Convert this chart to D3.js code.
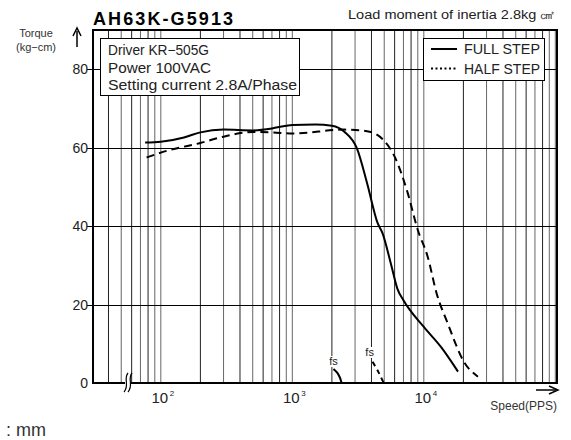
<!DOCTYPE html>
<html><head><meta charset="utf-8">
<script src="https://cdn.jsdelivr.net/npm/d3@7"></script>
<style>body{margin:0;background:#fff}svg{display:block;font-family:"Liberation Sans",Arial,sans-serif}</style>
</head><body>
<svg id="c" width="571" height="440"></svg>
<script>
const title = "AH63K-G5913";
const subtitle = "Load moment of inertia 2.8kg \u33A0";
const infoLines = ["Driver KR\u2212505G", "Power 100VAC", "Setting current 2.8A/Phase"];
const seriesNames = ["FULL STEP", "HALF STEP"];
const yTicks = [0, 20, 40, 60, 80];
const xLabelTicks = [100, 1000, 10000];
const xLabelExps = ["2", "3", "4"];

const fullSpeed  = [76, 100, 150, 200, 300, 500, 700, 900, 1000, 1500, 2000, 2500, 3100, 3700, 4450, 4850, 5600, 6300, 7000, 10000, 13500, 18200];
const fullTorque = [61.3, 61.5, 62.6, 63.9, 64.6, 64.4, 64.9, 65.6, 65.8, 65.9, 65.6, 64.0, 59.8, 51.0, 40.8, 38.2, 30.6, 24.0, 21.1, 14.3, 9.2, 2.9];
const halfSpeed  = [78, 111, 200, 300, 500, 700, 1000, 2500, 3700, 4950, 6100, 7550, 9000, 10700, 12500, 15200, 20200, 25800];
const halfTorque = [57.5, 59.2, 61.2, 62.8, 64.0, 63.9, 63.6, 64.6, 64.2, 61.9, 57.2, 48.4, 39.0, 32.2, 22.9, 15.2, 5.4, 1.6];
const fsFullSpeed  = [2055, 2200, 2300, 2370];
const fsFullTorque = [3.6, 2.6, 1.4, 0];
const fsHalfSpeed  = [4075, 4500, 4955];
const fsHalfTorque = [5.4, 2.9, 0];

const infoWidths = [101, 103, 189];

const svg = d3.select("#c");
const L = 93, R = 557, T = 30, B = 383;
const x = d3.scaleLog().domain([30.5, 103000]).range([L, R]);
const y = d3.scaleLinear().domain([0, 90]).range([B, T]);

// vertical grid
svg.append("g").selectAll("line").data(x.ticks().filter(v => x(v) > L + 2 && x(v) < R - 1))
  .join("line").attr("x1", d => x(d)).attr("x2", d => x(d)).attr("y1", T).attr("y2", B)
  .attr("stroke", d => [2,4,6,8].includes(+String(d)[0]) ? "#222" : "#666").attr("stroke-width", 1);
// horizontal grid
svg.append("g").selectAll("line").data(yTicks.filter(v => v > 0))
  .join("line").attr("x1", L - 6).attr("x2", R).attr("y1", d => Math.round(y(d)) + 0.5).attr("y2", d => Math.round(y(d)) + 0.5)
  .attr("stroke", "#000").attr("stroke-width", 1);
// frame
svg.append("rect").attr("x", L).attr("y", T).attr("width", R - L).attr("height", B - T)
  .attr("fill", "none").attr("stroke", "#000").attr("stroke-width", 2);

// y labels
svg.append("g").selectAll("text").data(yTicks).join("text")
  .attr("x", 88).attr("y", d => y(d) + 5).attr("text-anchor", "end")
  .attr("font-size", 14).attr("fill", "#222").text(d => d);

// x labels
const xl = svg.append("g").selectAll("g").data(xLabelTicks).join("g");
xl.append("text").attr("x", d => x(d) - 1).attr("y", 403).attr("text-anchor", "middle")
  .attr("font-size", 15).attr("fill", "#222").text("10");
xl.append("text").attr("x", d => x(d) + 9).attr("y", 396).attr("font-size", 8).attr("fill", "#222")
  .text((d, i) => xLabelExps[i]);

// curves
const pts = (s, t) => s.map((v, i) => [v, t[i]]);
const line = d3.line().x(d => x(d[0])).y(d => y(d[1])).curve(d3.curveMonotoneX);
svg.append("path").attr("d", line(pts(fullSpeed, fullTorque))).attr("fill", "none")
  .attr("stroke", "#000").attr("stroke-width", 2);
svg.append("path").attr("d", line(pts(halfSpeed, halfTorque))).attr("fill", "none")
  .attr("stroke", "#000").attr("stroke-width", 2).attr("stroke-dasharray", "8,5");

// fs labels + curves
const fsLab = [[fsFullSpeed[0], 365], [fsHalfSpeed[0] * 0.95, 356]];
fsLab.forEach(([s, yy]) => {
  svg.append("rect").attr("x", x(s) - 7).attr("y", yy - 9).attr("width", 14).attr("height", 11).attr("fill", "#fff");
  svg.append("text").attr("x", x(s)).attr("y", yy).attr("text-anchor", "middle")
    .attr("font-size", 11).attr("fill", "#222").text("fs");
});
const fsLine = d3.line().x(d => x(d[0])).y(d => y(d[1])).curve(d3.curveCatmullRom);
svg.append("path").attr("d", fsLine(pts(fsFullSpeed, fsFullTorque))).attr("fill", "none")
  .attr("stroke", "#000").attr("stroke-width", 2);
svg.append("path").attr("d", fsLine(pts(fsHalfSpeed, fsHalfTorque))).attr("fill", "none")
  .attr("stroke", "#000").attr("stroke-width", 2).attr("stroke-dasharray", "5,4");

// axis break
const bx = 128;
svg.append("rect").attr("x", bx - 3).attr("y", B - 6).attr("width", 6).attr("height", 12).attr("fill", "#fff");
[-2, 2].forEach(o => {
  svg.append("path").attr("d", `M${bx + o + 2},${B - 10} C${bx + o - 3},${B - 4} ${bx + o + 4},${B + 2} ${bx + o - 2},${B + 9}`)
    .attr("fill", "none").attr("stroke", "#000").attr("stroke-width", 1.2);
});

// info box
const ib = svg.append("g");
ib.append("rect").attr("x", 100.5).attr("y", 38.5).attr("width", 199).attr("height", 57)
  .attr("fill", "#fff").attr("stroke", "#000").attr("stroke-width", 1);
ib.selectAll("text").data(infoLines).join("text").attr("x", 108).attr("y", (d, i) => 55 + i * 17.5)
  .attr("font-size", 14).attr("fill", "#222").attr("textLength", (d, i) => infoWidths[i])
  .attr("lengthAdjust", "spacingAndGlyphs").text(d => d);

// legend
const lg = svg.append("g");
lg.append("rect").attr("x", 423.5).attr("y", 38.5).attr("width", 121).attr("height", 42)
  .attr("fill", "#fff").attr("stroke", "#000").attr("stroke-width", 1);
seriesNames.forEach((n, i) => {
  const yy = 49 + i * 19.5;
  lg.append("line").attr("x1", 431).attr("x2", 457).attr("y1", yy).attr("y2", yy)
    .attr("stroke", "#000").attr("stroke-width", 2).attr("stroke-dasharray", i ? "2,2.5" : null);
  lg.append("text").attr("x", 464).attr("y", yy + 5).attr("font-size", 14).attr("fill", "#222")
    .attr("textLength", 76).attr("lengthAdjust", "spacingAndGlyphs").text(n);
});

// titles
svg.append("text").attr("x", 93).attr("y", 25).attr("font-size", 18).attr("font-weight", "bold")
  .attr("textLength", 140).attr("lengthAdjust", "spacing").attr("fill", "#000").text(title);
svg.append("text").attr("x", 348).attr("y", 19).attr("font-size", 12)
  .attr("textLength", 207).attr("lengthAdjust", "spacingAndGlyphs").attr("fill", "#222").text(subtitle);
svg.append("text").attr("x", 36).attr("y", 37).attr("text-anchor", "middle").attr("font-size", 11).attr("fill", "#333").text("Torque");
svg.append("text").attr("x", 36).attr("y", 51).attr("text-anchor", "middle").attr("font-size", 11).attr("fill", "#333").text("(kg\u2212cm)");
// y arrow
svg.append("line").attr("x1", 77).attr("x2", 77).attr("y1", 47).attr("y2", 31).attr("stroke", "#000").attr("stroke-width", 1.5);
svg.append("path").attr("d", "M73,36 L77,28 L81,36").attr("fill", "none").attr("stroke", "#000").attr("stroke-width", 1.5);
// x arrow
svg.append("line").attr("x1", 536).attr("x2", 556).attr("y1", 390).attr("y2", 390).attr("stroke", "#000").attr("stroke-width", 1.5);
svg.append("path").attr("d", "M549,386 L558,390 L549,394").attr("fill", "none").attr("stroke", "#000").attr("stroke-width", 1.5);
svg.append("text").attr("x", 557).attr("y", 410).attr("text-anchor", "end").attr("font-size", 12).attr("fill", "#333").text("Speed(PPS)");
svg.append("text").attr("x", 6).attr("y", 436).attr("font-size", 18).attr("fill", "#333").text(": mm");
</script>
</body></html>
